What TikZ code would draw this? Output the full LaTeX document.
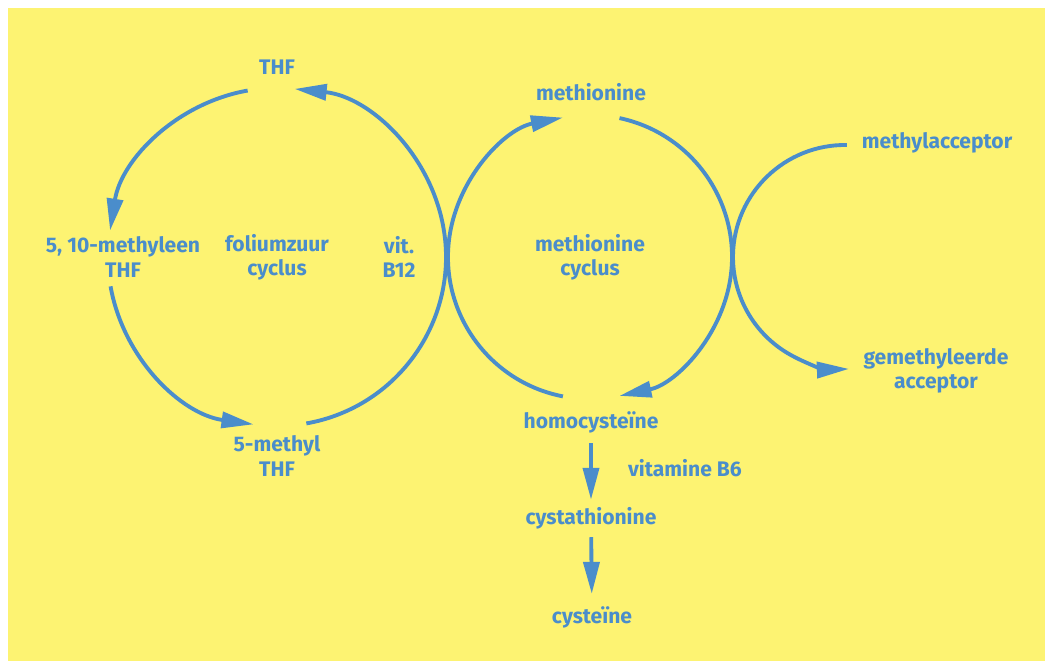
\documentclass[tikz,border=0pt]{standalone}
\usepackage{fontspec}
\setmainfont{Fira Sans}
\usepackage{tikz}
\usetikzlibrary{arrows.meta}
\definecolor{bgyellow}{RGB}{253,243,114}
\definecolor{myblue}{RGB}{74,141,203}
\begin{document}
\begin{tikzpicture}[
         x = 0.02cm, y = -0.02cm,
      font = \bfseries\fontsize{12}{13.8}\selectfont,
MyLabel/.style={text=myblue, align=center, inner sep=0pt},
 MyFlow/.style={draw=myblue, line width=2.2pt},
  ]
\useasboundingbox (0,0) rectangle (1045,661);
\fill [bgyellow] (8,8) rectangle (1045,661);
\node [MyLabel] (1) at (277,67)  {THF};
\node [MyLabel] (2) at (123,257) {5, 10-methyleen\\THF};
\node [MyLabel] (3) at (277,456) {5-methyl\\THF};
\node [MyLabel] (4) at (277,257) {foliumzuur\\cyclus};
\node [MyLabel] (5) at (399,257) {vit.\\B12};
\node [MyLabel] (6) at (591,92)  {methionine};
\node [MyLabel] (7) at (590,257) {methionine\\cyclus};
\node [MyLabel] (8) at (591,422) {homocysteïne};
\node [MyLabel] (9) at (591,518) {cystathionine};
\node [MyLabel] (10) at (592,617) {cysteïne};
\node [MyLabel] (11) at (685,468) {vitamine B6};
\node [MyLabel] (12) at (937,143) {methylacceptor};
\node [MyLabel] (13) at (936,371) {gemethyleerde\\acceptor};
\coordinate (c3) at (845,257);
\begin{scope}[-{Triangle[length=0.64cm, width=0.32cm]}]
  \draw [MyFlow] (4) ++(-100:169) arc [start angle=-100, end angle=-171, radius=169];
  \draw [MyFlow] (4) ++(170:169) arc [start angle=170, end angle=98, radius=169];
  \draw [MyFlow] (4) ++(80:169) arc [start angle=80, end angle=-84, radius=169];
  \draw [MyFlow] (7) ++(101:142) arc [start angle=101, end angle=259, radius=142];
  \draw [MyFlow] (7) ++(-78:142) arc [start angle=-78, end angle=78, radius=142];
  \draw [MyFlow] (c3) ++(-89:112) arc [start angle=271, end angle=88, radius=112];
  \draw [MyFlow, shorten <=0.2cm, shorten >=0.14cm] (8) -- (9);
  \draw [MyFlow, shorten <=0.16cm, shorten >=0.24cm] (9) -- (10);
\end{scope}
\end{tikzpicture}
\end{document}
